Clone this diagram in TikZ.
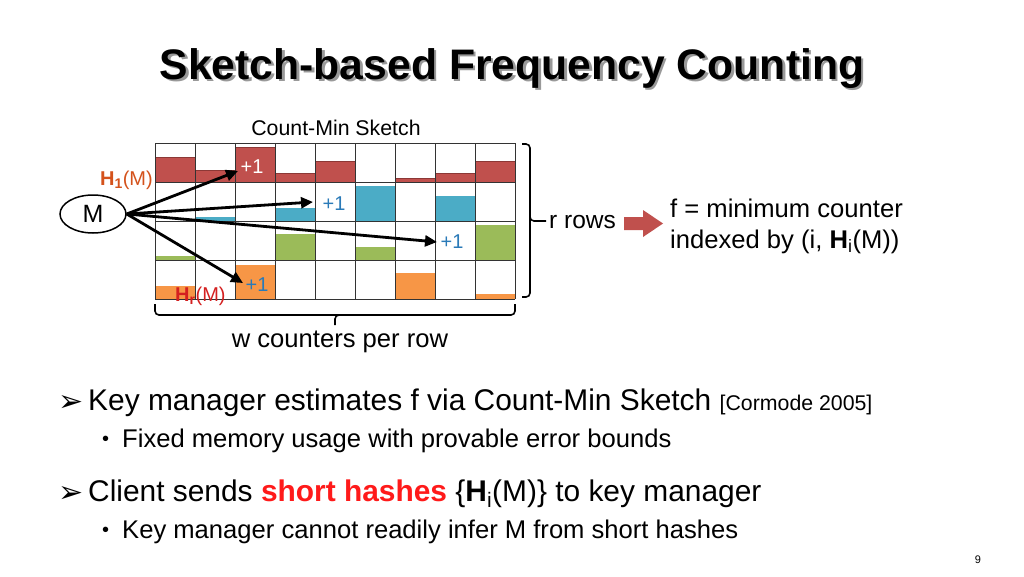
\documentclass[tikz,border=0pt]{standalone}
\usepackage{fontspec}
\setmainfont{Liberation Sans}
\newfontfamily\symfont{DejaVu Sans}
\usetikzlibrary{arrows.meta,shapes.geometric,calc}
\definecolor{cmred}{HTML}{C0504D}
\definecolor{cmredd}{HTML}{8C3836}
\definecolor{cmblue}{HTML}{4BACC6}
\definecolor{cmgreen}{HTML}{9BBB59}
\definecolor{cmorange}{HTML}{F79646}
\definecolor{hone}{HTML}{D4521C}
\definecolor{hrr}{HTML}{D42020}
\definecolor{plusblue}{HTML}{2A7AB8}
\definecolor{hot}{HTML}{FF1A1A}
\newcommand{\fsz}[1]{\fontsize{#1}{#1}\selectfont}
\begin{document}
\begin{tikzpicture}[x=1pt,y=-1pt,
  gridline/.style={draw=black!80, line width=0.8pt},
  conn/.style={line width=2.8pt, -{Triangle[length=12pt,width=11pt]}},
  plus/.style={inner sep=0pt, font=\fsz{20}},
  bodytxt/.style={inner sep=0pt, anchor=base west},
  bracestyle/.style={line width=1.6pt, rounded corners=4pt}]
\useasboundingbox (0,0) rectangle (1024,576);
\fill[white] (0,0) rectangle (1024,576);
% title
\node[inner sep=0pt, anchor=base, text=black!40, font=\fsz{42.7}\bfseries] (titleshadow) at (514.5,81.5) {Sketch-based Frequency Counting};
\node[inner sep=0pt, anchor=base, font=\fsz{42.7}\bfseries] (title) at (512,79) {Sketch-based Frequency Counting};
% sketch label
\node[inner sep=0pt, font=\fsz{21.3}] (cmslabel) at (336,128) {Count-Min Sketch};
% bars
\foreach \c/\t in {0/157,1/170,2/147,3/173,4/161,6/178,7/173,8/161}
  \filldraw[fill=cmred, draw=cmredd, line width=0.6pt] ({155+40*\c},\t) rectangle ({195+40*\c},182);
\foreach \c/\t in {1/217,3/208,5/186,7/196}
  \fill[cmblue] ({155+40*\c},\t) rectangle ({195+40*\c},221);
\foreach \c/\t in {0/256,3/234,5/247,8/225}
  \fill[cmgreen] ({155+40*\c},\t) rectangle ({195+40*\c},260);
\foreach \c/\t in {0/286,2/265,6/273,8/294}
  \fill[cmorange] ({155+40*\c},\t) rectangle ({195+40*\c},299);
% grid
\foreach \i in {0,...,9} \draw[gridline] ({155+40*\i},143) -- ({155+40*\i},299);
\foreach \j in {0,...,4} \draw[gridline] (155,{143+39*\j}) -- (515,{143+39*\j});
% M node and arrows
\node[draw, ellipse, line width=1.5pt, minimum width=66pt, minimum height=38pt, inner sep=0pt, font=\fsz{25}] (M) at (93,214) {M};
\coordinate (t1) at (238,171);
\coordinate (t2) at (313,202);
\coordinate (t3) at (437,242);
\coordinate (t4) at (243,283);
\draw[conn] (M.east) -- (t1);
\draw[conn] (M.east) -- (t2);
\draw[conn] (M.east) -- (t3);
\draw[conn] (M.east) -- (t4);
\node[plus, text=white] (p1) at (252,167) {+1};
\node[plus, text=plusblue] (p2) at (334,204) {+1};
\node[plus, text=plusblue] (p3) at (452,242) {+1};
\node[plus, text=plusblue] (p4) at (257,285) {+1};
% hash labels
\node[inner sep=0pt, anchor=east, text=hone, font=\fsz{20}] (h1) at (153,180) {\textbf{H\textsubscript{1}}(M)};
\node[inner sep=0pt, anchor=west, text=hrr, font=\fsz{20}] (hr) at (175,296) {\textbf{H\textsubscript{r}}(M)};
% right brace
\draw[bracestyle] (522,144) -| (530,221) -- (546,221);
\draw[bracestyle] (530,215) |- (522,297);
\node[inner sep=0pt, anchor=west, font=\fsz{24.5}] (rrows) at (549,222) {r rows};
% block arrow
\fill[cmred] (624,217) -- (643,217) -- (643,210) -- (663,223.5) -- (643,237) -- (643,230) -- (624,230) -- cycle;
\node[bodytxt, font=\fsz{25.6}] (fline1) at (670,217) {f = minimum counter};
\node[bodytxt, font=\fsz{25.6}] (fline2) at (670,248) {indexed by (i, \textbf{H}\textsubscript{i}(M))};
% bottom brace
\draw[bracestyle] (155,304) |- (340,315) -- (335,315) -- (335,325);
\draw[bracestyle] (330,315) -| (515,304);
\node[inner sep=0pt, anchor=base, font=\fsz{25.6}] (wlabel) at (340,347) {w counters per row};
% bullets
\node[bodytxt, font=\symfont\fsz{30}] (b1) at (58,411) {➢};
\node[bodytxt, font=\fsz{29.9}] (t1txt) at (88,410) {Key manager estimates f via Count-Min Sketch {\fsz{21.3}[Cormode 2005]}};
\node[bodytxt, font=\fsz{20}] (s1) at (102,445) {•};
\node[bodytxt, font=\fsz{25.6}] (s1txt) at (122,447) {Fixed memory usage with provable error bounds};
\node[bodytxt, font=\symfont\fsz{30}] (b2) at (58,502) {➢};
\node[bodytxt, font=\fsz{29.9}] (t2txt) at (88,501) {Client sends \textcolor{hot}{\textbf{short hashes}} \{\textbf{H}\textsubscript{i}(M)\} to key manager};
\node[bodytxt, font=\fsz{20}] (s2) at (102,536) {•};
\node[bodytxt, font=\fsz{25.6}] (s2txt) at (122,538) {Key manager cannot readily infer M from short hashes};
\node[inner sep=0pt, font=\fsz{11}] (pagenum) at (978,560) {9};
\end{tikzpicture}
\end{document}
